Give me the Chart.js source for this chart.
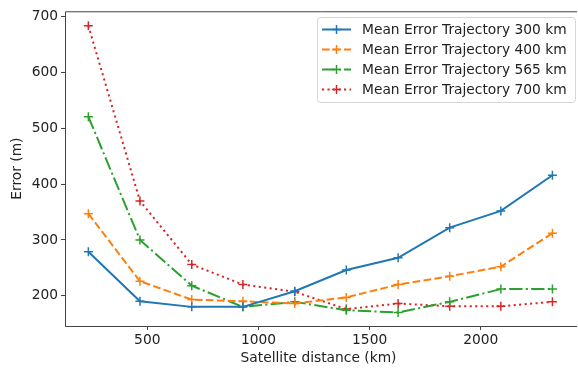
<!DOCTYPE html>
<html>
<head>
<meta charset="utf-8">
<script src="https://cdn.jsdelivr.net/npm/chart.js@4"></script>
<style>
  html, body { margin: 0; padding: 0; background: #fff; }
  #wrap { width: 578px; height: 369px; }
</style>
</head>
<body>
<div id="wrap"><canvas id="chartError" width="578" height="369"></canvas></div>
<script>
// Datos
const distances = [235, 467, 700, 930, 1163, 1395, 1628, 1860, 2090, 2322];
const err300 = [279, 190, 180, 180, 208, 246, 268, 322, 352, 416];
const err400 = [347, 226, 193, 190, 186, 197, 220, 235, 252, 312];
const err565 = [521, 300, 218, 180, 189, 174, 170, 189, 212, 212];
const err700 = [684, 370, 256, 220, 207, 176, 186, 181, 181, 189];
const seriesNames = ['Mean Error Trajectory 300 km', 'Mean Error Trajectory 400 km',
                     'Mean Error Trajectory 565 km', 'Mean Error Trajectory 700 km'];
const xTicks = [500, 1000, 1500, 2000];
const yTicks = [200, 300, 400, 500, 600, 700];

const colors = ['#1f77b4', '#ff7f0e', '#2ca02c', '#d62728'];
const dashes = [[], [7.7, 3.3], [13.3, 3.3, 2.1, 3.3], [2.1, 3.4]];
const FONT = 'DejaVu Sans';
const FSIZE = 13.8;

function toPoints(ys) {
    return ys.map((y, i) => ({ x: distances[i], y: y }));
}

// Marco (ejes) y leyenda estilo matplotlib
const framePlugin = {
    id: 'frame',
    afterDraw(chart) {
        const ctx = chart.ctx;
        const a = chart.chartArea;
        ctx.save();
        ctx.strokeStyle = '#444';
        ctx.lineWidth = 1;
        ctx.beginPath();
        ctx.moveTo(a.right + 5, a.top + 0.5);
        ctx.lineTo(a.left + 0.5, a.top + 0.5);
        ctx.lineTo(a.left + 0.5, a.bottom + 0.5);
        ctx.lineTo(a.right + 5, a.bottom + 0.5);
        ctx.stroke();

        // leyenda
        const bx = 317, by = 17, bw = 258, bh = 85;
        ctx.fillStyle = 'rgba(255,255,255,0.8)';
        ctx.strokeStyle = '#d6d6d6';
        ctx.lineWidth = 1;
        ctx.beginPath();
        ctx.roundRect(bx + 0.5, by + 0.5, bw, bh, 3);
        ctx.fill();
        ctx.stroke();
        ctx.font = FSIZE + 'px "' + FONT + '"';
        ctx.textBaseline = 'middle';
        chart.data.datasets.forEach((ds, i) => {
            const yc = 29.5 + i * 20;
            ctx.strokeStyle = ds.borderColor;
            ctx.lineWidth = 2;
            ctx.setLineDash(ds.borderDash);
            ctx.beginPath();
            ctx.moveTo(322, yc);
            ctx.lineTo(351, yc);
            ctx.stroke();
            ctx.setLineDash([]);
            ctx.lineWidth = 1.5;
            ctx.beginPath();
            ctx.moveTo(336.5 - 4.5, yc);
            ctx.lineTo(336.5 + 4.5, yc);
            ctx.moveTo(336.5, yc - 4.5);
            ctx.lineTo(336.5, yc + 4.5);
            ctx.stroke();
            ctx.fillStyle = '#222';
            ctx.fillText(ds.label, 362, yc + 1);
        });
        ctx.restore();
    }
};

document.addEventListener("DOMContentLoaded", function() {
    const ctx = document.getElementById('chartError').getContext('2d');
    const allSeries = [err300, err400, err565, err700];
    new Chart(ctx, {
        type: 'line',
        data: {
            datasets: allSeries.map((s, i) => ({
                label: seriesNames[i],
                data: toPoints(s),
                borderColor: colors[i],
                backgroundColor: colors[i],
                borderDash: dashes[i],
                borderWidth: 2,
                borderCapStyle: 'butt',
                pointStyle: 'cross',
                pointRadius: 4.5,
                pointBorderWidth: 1.5,
                pointHoverRadius: 4.5,
                tension: 0,
                fill: false
            }))
        },
        options: {
            responsive: false,
            animation: false,
            events: [],
            layout: { padding: { top: 11, right: 0, left: 0, bottom: 0 } },
            plugins: {
                legend: { display: false },
                tooltip: { enabled: false }
            },
            scales: {
                x: {
                    type: 'linear',
                    min: 130,
                    max: 2410,
                    afterBuildTicks: axis => { axis.ticks = xTicks.map(v => ({ value: v })); },
                    afterFit: axis => { axis.height = 43; },
                    grid: { drawOnChartArea: false, color: '#444', tickLength: 4, tickWidth: 1 },
                    border: { display: false },
                    ticks: { color: '#222', font: { family: FONT, size: FSIZE }, padding: 2, maxRotation: 0,
                             callback: v => String(v) },
                    title: { display: true, text: 'Satellite distance (km)', color: '#222',
                             font: { family: FONT, size: FSIZE }, padding: { top: 0, bottom: 2 } }
                },
                y: {
                    type: 'linear',
                    min: 145.7,
                    max: 710,
                    afterBuildTicks: axis => { axis.ticks = yTicks.map(v => ({ value: v })); },
                    afterFit: axis => { axis.width = 65; },
                    grid: { drawOnChartArea: false, color: '#444', tickLength: 4, tickWidth: 1 },
                    border: { display: false },
                    ticks: { color: '#222', font: { family: FONT, size: FSIZE }, padding: 3,
                             callback: v => String(v) },
                    title: { display: true, text: 'Error (m)', color: '#222',
                             font: { family: FONT, size: FSIZE }, padding: { top: 9, bottom: 4 } }
                }
            }
        },
        plugins: [framePlugin]
    });
});
</script>
</body>
</html>
